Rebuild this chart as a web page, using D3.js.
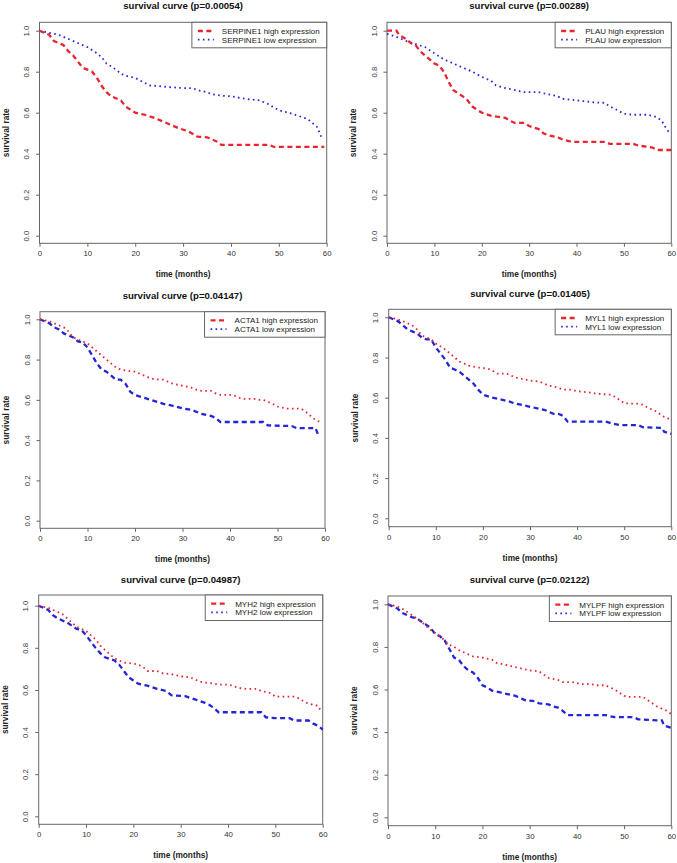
<!DOCTYPE html>
<html>
<head>
<meta charset="utf-8">
<script src="https://cdn.jsdelivr.net/npm/d3@7"></script>
<style>
  html, body { margin: 0; padding: 0; background: #fff; }
  svg { display: block; font-family: "Liberation Sans", Arial, Helvetica, sans-serif; }
</style>
</head>
<body>
<svg id="chart" width="677" height="863"></svg>
<script>
// ---------------- DATA ----------------
const genes = ["SERPINE1", "PLAU", "ACTA1", "MYL1", "MYH2", "MYLPF"];
const pValues = ["0.00054", "0.00289", "0.04147", "0.01405", "0.04987", "0.02122"];
const xTicks = [0, 10, 20, 30, 40, 50, 60];
const yTicks = [0.0, 0.2, 0.4, 0.6, 0.8, 1.0];
const yTickLabels = ["0.0", "0.2", "0.4", "0.6", "0.8", "1.0"];

// survival curves [month, survival]
const serpine1High = [[0,1.0],[2,0.98],[3,0.95],[5,0.93],[6,0.90],[7,0.88],[8,0.85],[9,0.82],[10,0.81],[11,0.80],[12,0.77],[13,0.73],[14,0.70],[15,0.68],[17,0.66],[18,0.63],[20,0.60],[22,0.59],[24,0.575],[26,0.555],[27,0.545],[29,0.525],[31,0.51],[33,0.483],[35,0.48],[37,0.46],[38,0.443],[48,0.443],[49,0.433],[59.5,0.433]];
const serpine1Low = [[0,1.0],[2,0.99],[4,0.98],[6,0.96],[8,0.94],[10,0.92],[12,0.89],[13,0.87],[14,0.84],[16,0.81],[17,0.79],[18,0.78],[20,0.77],[22,0.745],[23,0.733],[25,0.73],[27,0.725],[30,0.72],[32,0.72],[33,0.71],[35,0.70],[36,0.69],[38,0.683],[40,0.68],[42,0.672],[44,0.665],[46,0.66],[47,0.65],[48,0.64],[49,0.625],[50,0.612],[52,0.60],[54,0.585],[56,0.57],[57,0.55],[58,0.53],[59,0.475]];
const plauHigh = [[0,1.0],[2,1.0],[2.5,0.98],[4,0.96],[5,0.94],[6,0.93],[7,0.90],[8,0.88],[10,0.84],[11,0.83],[12,0.80],[13,0.75],[14,0.71],[16,0.68],[17,0.66],[18,0.63],[20,0.60],[22,0.585],[24,0.578],[25,0.575],[26,0.56],[27,0.55],[29,0.55],[30,0.535],[32,0.52],[33,0.50],[34,0.49],[36,0.48],[37,0.47],[39,0.458],[46,0.458],[47,0.448],[52,0.448],[53,0.44],[56,0.43],[57,0.418],[60,0.418]];
const plauLow = [[0,0.985],[2,0.97],[4,0.95],[6,0.935],[8,0.92],[10,0.89],[12,0.86],[14,0.84],[16,0.82],[18,0.80],[20,0.775],[22,0.755],[23,0.733],[25,0.72],[27,0.71],[29,0.70],[32,0.70],[34,0.69],[36,0.68],[37,0.668],[40,0.66],[42,0.655],[44,0.65],[46,0.648],[47,0.63],[48,0.62],[50,0.595],[52,0.59],[55,0.59],[57,0.578],[58,0.56],[59,0.52],[59.7,0.50]];
const acta1High = [[0,1.0],[2,0.99],[3,0.98],[5,0.96],[6,0.94],[7,0.91],[9,0.89],[10,0.88],[11,0.86],[12,0.84],[13,0.82],[14,0.80],[15,0.78],[16,0.76],[17,0.75],[19,0.742],[20,0.74],[21,0.73],[22,0.72],[23,0.71],[24,0.703],[26,0.70],[27,0.69],[28,0.68],[30,0.67],[32,0.66],[33,0.65],[34,0.645],[36,0.645],[37,0.632],[38,0.625],[40,0.625],[41,0.62],[42,0.61],[43,0.605],[45,0.605],[46,0.60],[47,0.60],[48,0.59],[49,0.58],[50,0.567],[52,0.556],[55,0.556],[56,0.54],[57,0.52],[58,0.50],[59,0.49]];
const acta1Low = [[0,1.0],[2,0.98],[3,0.96],[4,0.95],[5,0.93],[6,0.92],[7,0.91],[8,0.89],[9,0.885],[10,0.86],[11,0.82],[12,0.78],[13,0.75],[14,0.74],[15,0.72],[16,0.70],[17,0.70],[18,0.68],[19,0.64],[20,0.624],[22,0.61],[24,0.595],[26,0.58],[28,0.57],[30,0.558],[32,0.55],[33,0.54],[34,0.53],[36,0.52],[37,0.51],[38,0.49],[47,0.49],[48,0.473],[53,0.47],[54,0.46],[58,0.46],[58.5,0.43],[59,0.43]];
const myl1High = [[0,1.0],[2,0.99],[3,0.98],[5,0.96],[6,0.94],[7,0.91],[9,0.89],[10,0.87],[12,0.84],[13,0.82],[14,0.80],[15,0.78],[16,0.77],[17,0.76],[19,0.75],[21,0.745],[22,0.735],[23,0.72],[25,0.72],[26,0.71],[27,0.70],[29,0.69],[30,0.685],[32,0.68],[33,0.67],[34,0.66],[36,0.65],[37,0.64],[39,0.64],[40,0.632],[41,0.63],[43,0.625],[44,0.62],[47,0.615],[48,0.605],[49,0.59],[50,0.572],[53,0.57],[54,0.565],[55,0.55],[57,0.53],[58,0.51],[59,0.50],[60,0.49]];
const myl1Low = [[0,1.0],[2,0.98],[3,0.96],[4,0.94],[5,0.93],[6,0.92],[7,0.90],[8,0.89],[9,0.89],[10,0.85],[11,0.82],[12,0.79],[13,0.75],[14,0.74],[15,0.73],[16,0.71],[17,0.69],[18,0.67],[19,0.64],[20,0.615],[22,0.60],[25,0.585],[27,0.57],[29,0.56],[31,0.55],[33,0.54],[35,0.52],[36,0.52],[37,0.51],[38,0.481],[46,0.481],[47,0.475],[49,0.464],[53,0.464],[54,0.453],[58,0.45],[58.5,0.43],[60,0.42]];
const myh2High = [[0,1.0],[2,0.99],[3,0.98],[4,0.97],[5,0.96],[6,0.94],[7,0.92],[8,0.90],[9,0.89],[10,0.88],[11,0.86],[12,0.84],[13,0.81],[14,0.79],[15,0.77],[16,0.75],[17,0.74],[18,0.73],[20,0.725],[21,0.72],[22,0.71],[23,0.69],[25,0.69],[26,0.68],[28,0.675],[29,0.67],[30,0.665],[32,0.66],[33,0.65],[34,0.64],[35,0.635],[37,0.63],[38,0.625],[40,0.625],[41,0.62],[42,0.61],[44,0.605],[46,0.605],[47,0.595],[48,0.59],[49,0.585],[50,0.568],[54,0.568],[55,0.56],[56,0.545],[57,0.535],[59,0.525],[59.5,0.505]];
const myh2Low = [[0,1.0],[2,0.98],[3,0.955],[4,0.94],[5,0.93],[6,0.92],[7,0.905],[8,0.89],[9,0.885],[10,0.86],[11,0.83],[12,0.80],[13,0.775],[14,0.755],[16,0.74],[17,0.72],[18,0.69],[19,0.66],[20,0.645],[21,0.63],[23,0.62],[25,0.605],[27,0.595],[28,0.575],[31,0.57],[33,0.555],[35,0.54],[36,0.53],[37,0.515],[38,0.494],[47,0.494],[48,0.47],[50,0.466],[53,0.466],[54,0.455],[57,0.455],[58,0.44],[59,0.43],[60,0.412]];
const mylpfHigh = [[0,1.0],[2,0.99],[3,0.98],[4,0.965],[5,0.95],[6,0.935],[7,0.92],[8,0.90],[9,0.88],[10,0.865],[11,0.85],[12,0.83],[13,0.81],[14,0.80],[15,0.785],[16,0.775],[17,0.765],[18,0.755],[20,0.75],[22,0.74],[23,0.725],[24,0.72],[26,0.71],[28,0.70],[30,0.69],[32,0.685],[33,0.67],[34,0.655],[36,0.645],[37,0.635],[39,0.635],[40,0.63],[41,0.625],[43,0.625],[44,0.62],[46,0.62],[47,0.61],[48,0.60],[49,0.585],[50,0.57],[51,0.565],[54,0.565],[55,0.55],[57,0.52],[58,0.51],[59,0.50],[60,0.485]];
const mylpfLow = [[0,1.0],[2,0.98],[3,0.96],[4,0.95],[5,0.94],[6,0.935],[7,0.92],[8,0.905],[9,0.89],[10,0.86],[11,0.85],[12,0.83],[13,0.79],[14,0.75],[15,0.74],[16,0.71],[17,0.69],[18,0.68],[19,0.655],[20,0.62],[21,0.61],[22,0.595],[24,0.585],[26,0.575],[27,0.57],[28,0.56],[29,0.55],[31,0.545],[32,0.535],[34,0.53],[35,0.52],[36,0.515],[37,0.50],[38,0.48],[46,0.48],[47,0.475],[48,0.47],[52,0.47],[53,0.46],[57,0.455],[58,0.455],[58.5,0.43],[60,0.42]];

const highSeries = [serpine1High, plauHigh, acta1High, myl1High, myh2High, mylpfHigh];
const lowSeries  = [serpine1Low,  plauLow,  acta1Low,  myl1Low,  myh2Low,  mylpfLow];
// In the top row high=dashed, low=dotted; in the lower rows the plot lines swap (legend does not)
const highDashed = [true, true, false, false, false, false];

// ---------------- LAYOUT ----------------
const panels = [
  {left: 39.5, right: 326.7, top: 22.3, bottom: 243.3, y1: 30.7,  y0: 235.7, titleY: 8.5,   legTop: 22.3},
  {left: 387,  right: 671.3, top: 22.3, bottom: 243.3, y1: 30.7,  y0: 235.7, titleY: 8.5,   legTop: 22.3},
  {left: 40,   right: 325,   top: 311.7, bottom: 528.3, y1: 319.3, y0: 520.7, titleY: 298.5, legTop: 311.7},
  {left: 388.7,right: 671.3, top: 309.3, bottom: 526.7, y1: 317.3, y0: 518.3, titleY: 296.8, legTop: 309.3},
  {left: 38.7, right: 322.7, top: 595,   bottom: 824.3, y1: 605.7, y0: 816.3, titleY: 582.5, legTop: 595},
  {left: 388,  right: 671.3, top: 596,   bottom: 825.7, y1: 604.3, y0: 817.3, titleY: 582.5, legTop: 596}
];

const RED = "#e8242e";
const BLUE = "#2424d8";
const DASH = "5,3.5";
const DOT = "1.6,3.4";
const DASH_W = 2.3;
const DOT_W = 1.8;

const svg = d3.select("#chart");

panels.forEach((p, i) => {
  const g = svg.append("g");
  const x = d3.scaleLinear().domain([0, 60]).range([p.left, p.right]);
  const y = d3.scaleLinear().domain([0, 1]).range([p.y0, p.y1]);

  // title
  g.append("text")
    .attr("x", (p.left + p.right) / 2).attr("y", p.titleY)
    .attr("text-anchor", "middle")
    .attr("font-size", "9.6px").attr("font-weight", "bold").attr("fill", "#111")
    .text(`survival curve (p=${pValues[i]})`);

  // x axis
  const xAxis = d3.axisBottom(x).tickValues(xTicks).tickSize(3.5).tickPadding(4).tickFormat(d3.format("d"));
  const gx = g.append("g").attr("transform", `translate(0,${p.bottom})`).call(xAxis);
  gx.select(".domain").remove();
  gx.selectAll("line").attr("stroke", "#666");
  gx.selectAll("text").attr("font-size", "7.8px").attr("fill", "#333").attr("font-family", "Liberation Sans, Arial, sans-serif");

  // y axis
  const yAxis = d3.axisLeft(y).tickValues(yTicks).tickSize(3.5).tickPadding(0).tickFormat((d, k) => yTickLabels[k]);
  const gy = g.append("g").attr("transform", `translate(${p.left},0)`).call(yAxis);
  gy.select(".domain").remove();
  gy.selectAll("line").attr("stroke", "#666");
  gy.selectAll("text")
    .attr("font-size", "7.8px").attr("fill", "#333").attr("font-family", "Liberation Sans, Arial, sans-serif")
    .attr("text-anchor", "middle").attr("dy", null).attr("x", null)
    .attr("transform", "translate(-12.5,0) rotate(-90)")
    .attr("dominant-baseline", "middle");

  // box
  g.append("rect")
    .attr("x", p.left).attr("y", p.top)
    .attr("width", p.right - p.left).attr("height", p.bottom - p.top)
    .attr("fill", "none").attr("stroke", "#666").attr("stroke-width", 1);

  // axis titles
  g.append("text")
    .attr("x", (p.left + p.right) / 2).attr("y", p.bottom + 34)
    .attr("text-anchor", "middle").attr("font-size", "8.3px").attr("font-weight", "bold").attr("fill", "#222")
    .text("time (months)");
  g.append("text")
    .attr("transform", `translate(${p.left - 31},${(p.top + p.bottom) / 2}) rotate(-90)`)
    .attr("text-anchor", "middle").attr("font-size", "8.3px").attr("font-weight", "bold").attr("fill", "#222")
    .text("survival rate");

  // curves
  const line = d3.line().x(d => x(d[0])).y(d => y(d[1])).curve(d3.curveLinear);
  const hd = highDashed[i];
  g.append("path").datum(lowSeries[i])
    .attr("d", line).attr("fill", "none").attr("stroke", BLUE)
    .attr("stroke-width", hd ? DOT_W : DASH_W).attr("stroke-dasharray", hd ? DOT : DASH);
  g.append("path").datum(highSeries[i])
    .attr("d", line).attr("fill", "none").attr("stroke", RED)
    .attr("stroke-width", hd ? DASH_W : DOT_W).attr("stroke-dasharray", hd ? DASH : DOT);

  // legend (as drawn: high = red dashed, low = blue dotted)
  const labels = [`${genes[i]} high expression`, `${genes[i]} low expression`];
  const leg = g.append("g");
  const texts = labels.map((t, k) => leg.append("text")
    .attr("y", p.legTop + 8.7 * (k + 1) + 2.8)
    .attr("font-size", "8px").attr("fill", "#222").text(t));
  const tw = d3.max(texts, t => t.node().getComputedTextLength());
  const bw = tw + 37;
  const bx = p.right - bw;
  leg.insert("rect", "text")
    .attr("x", bx).attr("y", p.legTop).attr("width", bw).attr("height", 25.5)
    .attr("fill", "#fff").attr("stroke", "#666").attr("stroke-width", 1);
  texts.forEach(t => t.attr("x", bx + 30));
  [[RED, DASH, DASH_W], [BLUE, DOT, DOT_W]].forEach((s, k) => {
    leg.append("line")
      .attr("x1", bx + 6).attr("x2", bx + 22)
      .attr("y1", p.legTop + 8.7 * (k + 1)).attr("y2", p.legTop + 8.7 * (k + 1))
      .attr("stroke", s[0]).attr("stroke-dasharray", s[1]).attr("stroke-width", s[2]);
  });
});
</script>
</body>
</html>
